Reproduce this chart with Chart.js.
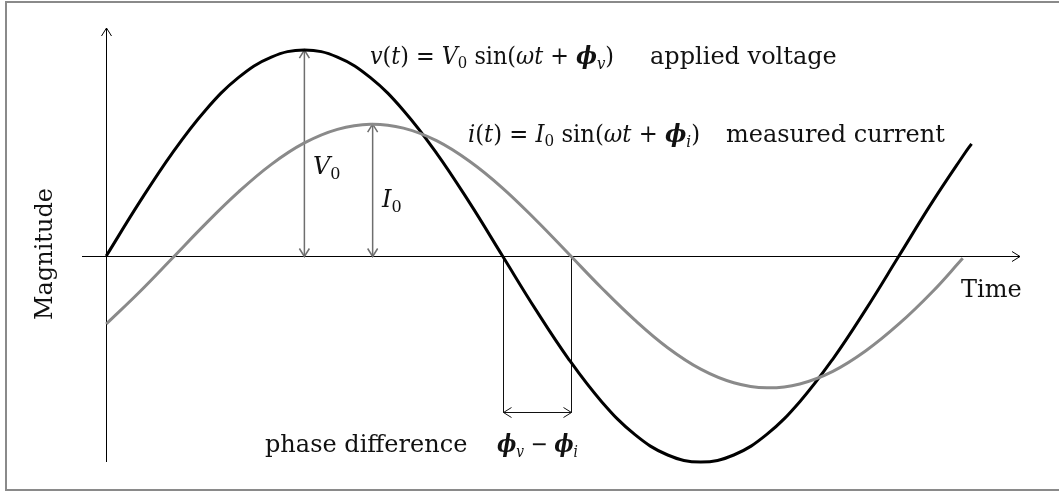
<!DOCTYPE html>
<html>
<head>
<meta charset="utf-8">
<script src="https://cdn.jsdelivr.net/npm/chart.js@4/dist/chart.umd.min.js"></script>
<style>
    html, body { margin: 0; padding: 0; background: #fff; overflow: hidden; }
</style>
</head>
<body>
<canvas id="waveGraph" width="1059" height="491"></canvas>
<script>
// phase angle in degrees along the time axis
const voltagePhase = [0, 15, 30, 45, 60, 75, 90, 105, 120, 135, 150, 165, 180, 195, 210, 225, 240, 255, 270, 285, 300, 315, 330, 345, 360, 375, 390, 393];
// applied voltage v(t), amplitude V0 = 1
const voltage = [0, 0.259, 0.5, 0.707, 0.866, 0.966, 1, 0.966, 0.866, 0.707, 0.5, 0.259, 0, -0.259, -0.5, -0.707, -0.866, -0.966, -1, -0.966, -0.866, -0.707, -0.5, -0.259, 0, 0.259, 0.5, 0.545];
const currentPhase = [0, 15, 30, 45, 60, 75, 90, 105, 120, 135, 150, 165, 180, 195, 210, 225, 240, 255, 270, 285, 300, 315, 330, 345, 360, 375, 389];
// measured current i(t), lagging the voltage
const current = [-0.330, -0.176, -0.011, 0.155, 0.310, 0.445, 0.549, 0.615, 0.640, 0.621, 0.560, 0.460, 0.330, 0.176, 0.011, -0.155, -0.310, -0.445, -0.549, -0.615, -0.640, -0.621, -0.560, -0.460, -0.330, -0.176, -0.011];

// amplitude markers and the zero crossings that bound the phase difference
const peakVoltageAt = 90;
const peakVoltage = 1;
const peakCurrentAt = 121;
const peakCurrent = 0.64;
const zeroVoltageAt = 180;
const zeroCurrentAt = 211;
const phaseBracketLevel = -0.757;

const serif = '"DejaVu Serif", "Liberation Serif", serif';

function to_points(xs, ys) {
    return xs.map((x, i) => ({ x: x, y: ys[i] }));
}

// snap to the pixel centre so 1px lines stay sharp
function crisp(v) {
    return Math.round(v) + 0.5;
}

// open chevron arrow head pointing from (fx, fy) to (tx, ty)
function arrow_head(ctx, fx, fy, tx, ty, len, half) {
    const a = Math.atan2(ty - fy, tx - fx);
    ctx.beginPath();
    ctx.moveTo(tx - len * Math.cos(a) + half * Math.sin(a), ty - len * Math.sin(a) - half * Math.cos(a));
    ctx.lineTo(tx, ty);
    ctx.lineTo(tx - len * Math.cos(a) - half * Math.sin(a), ty - len * Math.sin(a) + half * Math.cos(a));
    ctx.stroke();
}

function double_arrow(ctx, x1, y1, x2, y2) {
    ctx.beginPath();
    ctx.moveTo(x1, y1);
    ctx.lineTo(x2, y2);
    ctx.stroke();
    arrow_head(ctx, x1, y1, x2, y2, 8, 5);
    arrow_head(ctx, x2, y2, x1, y1, 8, 5);
}

// draw a row of differently styled text pieces, optionally squeezed to a width
function draw_runs(ctx, x, y, runs, width) {
    let total = 0;
    runs.forEach(r => {
        ctx.font = r.font;
        total += ctx.measureText(r.text).width;
    });
    const k = width ? width / total : 1;
    ctx.save();
    ctx.translate(x, y);
    ctx.scale(k, 1);
    let cx = 0;
    runs.forEach(r => {
        ctx.font = r.font;
        ctx.fillText(r.text, cx, r.dy || 0);
        cx += ctx.measureText(r.text).width;
    });
    ctx.restore();
}

const fontMain = `24px ${serif}`;
const fontItalic = `italic 24px ${serif}`;
const fontPhi = `bold italic 24px ${serif}`;
const fontSub = `16px ${serif}`;
const fontSubItalic = `italic 16px ${serif}`;

const frameAndAxes = {
    id: 'frameAndAxes',
    beforeDatasetsDraw(chart) {
        const ctx = chart.ctx;
        const x = chart.scales.x;
        const y = chart.scales.y;
        ctx.save();
        // outer frame
        ctx.strokeStyle = '#8a8a8a';
        ctx.lineWidth = 2;
        ctx.beginPath();
        ctx.moveTo(1070, 2);
        ctx.lineTo(6, 2);
        ctx.lineTo(6, 490);
        ctx.lineTo(1070, 490);
        ctx.stroke();

        // time and magnitude axes
        ctx.strokeStyle = '#000';
        ctx.lineWidth = 1;
        const x0 = crisp(x.getPixelForValue(0));
        const y0 = crisp(y.getPixelForValue(0));
        const xEnd = x.getPixelForValue(x.max);
        const yTop = y.getPixelForValue(y.max);
        ctx.beginPath();
        ctx.moveTo(x.getPixelForValue(x.min), y0);
        ctx.lineTo(xEnd, y0);
        ctx.moveTo(x0, y.getPixelForValue(y.min));
        ctx.lineTo(x0, yTop);
        ctx.stroke();
        arrow_head(ctx, x.getPixelForValue(x.min), y0, xEnd, y0, 8, 5);
        arrow_head(ctx, x0, y.getPixelForValue(y.min), x0, yTop, 8, 5);

        // amplitude arrows
        ctx.strokeStyle = '#6e6e6e';
        ctx.lineWidth = 1.5;
        double_arrow(ctx, x.getPixelForValue(peakVoltageAt), y0, x.getPixelForValue(peakVoltageAt), y.getPixelForValue(peakVoltage));
        double_arrow(ctx, x.getPixelForValue(peakCurrentAt), y0, x.getPixelForValue(peakCurrentAt), y.getPixelForValue(peakCurrent));

        // phase difference bracket
        ctx.strokeStyle = '#111';
        ctx.lineWidth = 1;
        const xa = crisp(x.getPixelForValue(zeroVoltageAt));
        const xb = crisp(x.getPixelForValue(zeroCurrentAt));
        const yb = crisp(y.getPixelForValue(phaseBracketLevel));
        ctx.beginPath();
        ctx.moveTo(xa, y0);
        ctx.lineTo(xa, yb);
        ctx.moveTo(xb, y0);
        ctx.lineTo(xb, yb);
        ctx.stroke();
        double_arrow(ctx, xa, yb, xb, yb);
        ctx.restore();
    },
    afterDatasetsDraw(chart) {
        const ctx = chart.ctx;
        ctx.save();
        ctx.fillStyle = '#111';
        ctx.textBaseline = 'alphabetic';
        ctx.textAlign = 'left';

        draw_runs(ctx, 370, 64, [
            { text: 'v', font: fontItalic },
            { text: '(', font: fontMain },
            { text: 't', font: fontItalic },
            { text: ') = ', font: fontMain },
            { text: 'V', font: fontItalic },
            { text: '0', font: fontSub, dy: 4 },
            { text: ' sin(', font: fontMain },
            { text: 'ωt', font: fontItalic },
            { text: ' + ', font: fontMain },
            { text: 'ϕ', font: fontPhi },
            { text: 'v', font: fontSubItalic, dy: 5 },
            { text: ')', font: fontMain }
        ], 244);
        ctx.font = fontMain;
        ctx.fillText('applied voltage', 650, 64);

        draw_runs(ctx, 468, 142, [
            { text: 'i', font: fontItalic },
            { text: '(', font: fontMain },
            { text: 't', font: fontItalic },
            { text: ') = ', font: fontMain },
            { text: 'I', font: fontItalic },
            { text: '0', font: fontSub, dy: 4 },
            { text: ' sin(', font: fontMain },
            { text: 'ωt', font: fontItalic },
            { text: ' + ', font: fontMain },
            { text: 'ϕ', font: fontPhi },
            { text: 'i', font: fontSubItalic, dy: 5 },
            { text: ')', font: fontMain }
        ], 232);
        ctx.font = fontMain;
        ctx.fillText('measured current', 726, 142);

        draw_runs(ctx, 313, 174, [
            { text: 'V', font: fontItalic },
            { text: '0', font: fontSub, dy: 5 }
        ]);
        draw_runs(ctx, 382, 207, [
            { text: 'I', font: fontItalic },
            { text: '0', font: fontSub, dy: 5 }
        ]);

        ctx.font = fontMain;
        ctx.fillText('phase difference', 265, 452);
        draw_runs(ctx, 497, 452, [
            { text: 'ϕ', font: fontPhi },
            { text: 'v', font: fontSubItalic, dy: 5 },
            { text: ' − ', font: fontMain },
            { text: 'ϕ', font: fontPhi },
            { text: 'i', font: fontSubItalic, dy: 5 }
        ], 81);

        ctx.font = fontMain;
        ctx.fillText('Time', 961, 297);

        ctx.translate(52, 254);
        ctx.rotate(-Math.PI / 2);
        ctx.textAlign = 'center';
        ctx.fillText('Magnitude', 0, 0);
        ctx.restore();
    }
};

const waveGraph = new Chart('waveGraph', {
    type: 'line',
    data: {
        datasets: [
            {
                label: 'current',
                data: to_points(currentPhase, current),
                borderColor: '#8a8a8a',
                borderWidth: 3,
                pointRadius: 0,
                tension: 0.4,
                clip: false
            },
            {
                label: 'voltage',
                data: to_points(voltagePhase, voltage),
                borderColor: '#000',
                borderWidth: 3,
                pointRadius: 0,
                tension: 0.4,
                clip: false
            }
        ]
    },
    options: {
        responsive: false,
        animation: false,
        devicePixelRatio: 1,
        layout: { padding: { left: 82, right: 39, top: 28, bottom: 29 } },
        plugins: { legend: { display: false }, tooltip: { enabled: false } },
        scales: {
            x: { type: 'linear', min: -11, max: 415, display: false },
            y: { type: 'linear', min: -1, max: 1.107, display: false }
        }
    },
    plugins: [frameAndAxes]
});
</script>
</body>
</html>
